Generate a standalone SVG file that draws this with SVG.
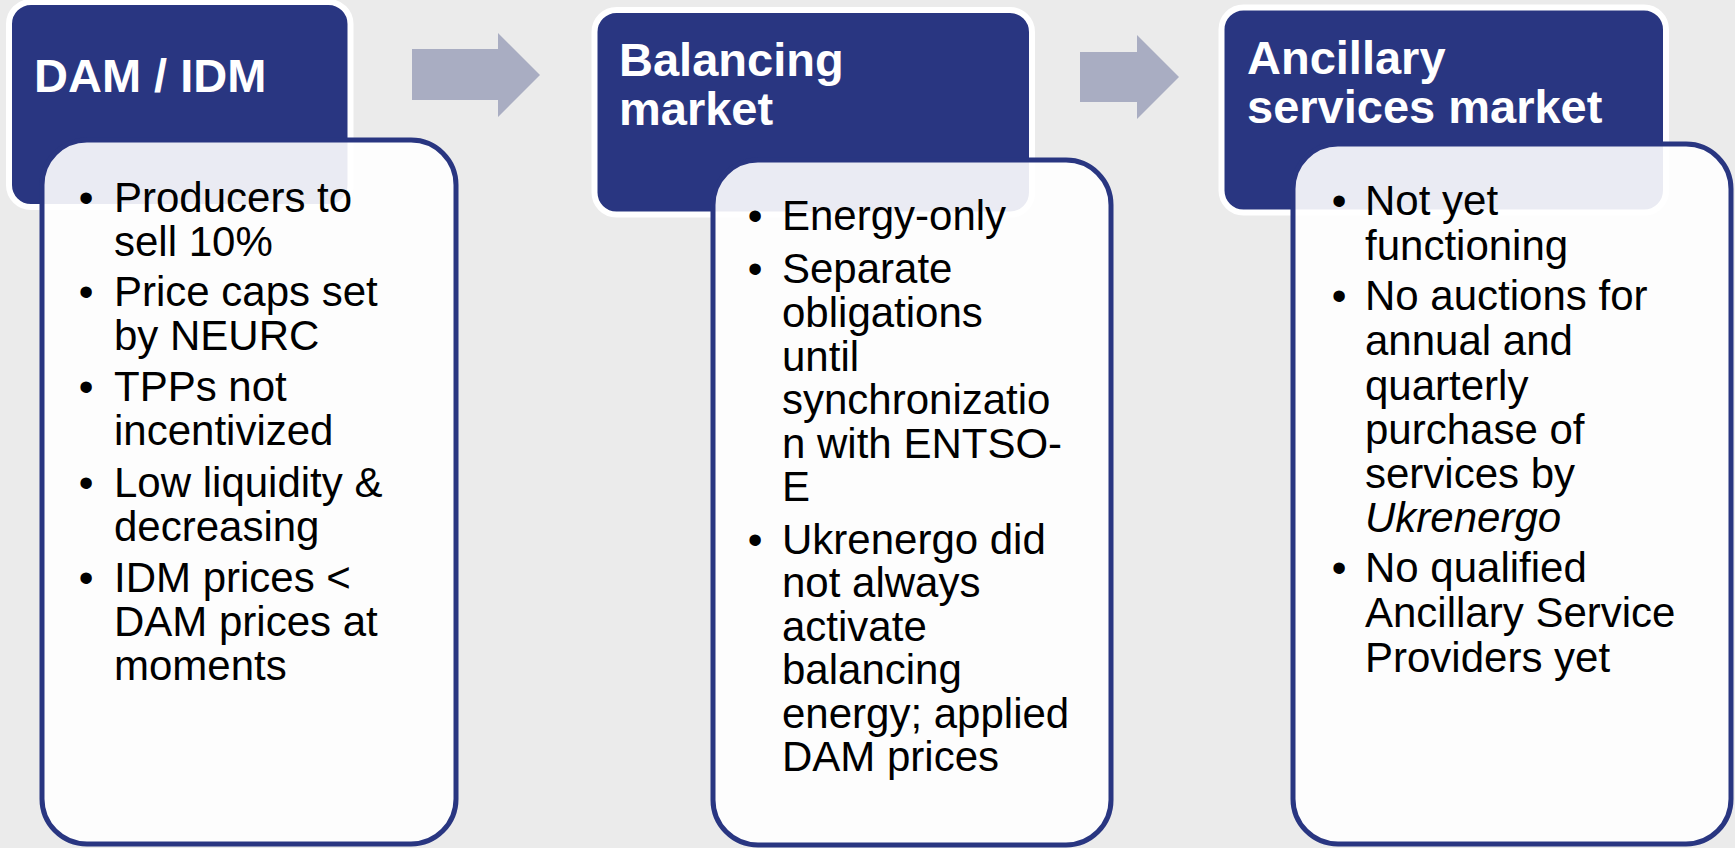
<svg xmlns="http://www.w3.org/2000/svg" width="1735" height="848" viewBox="0 0 1735 848">
<style>
.hdr{fill:#293681;stroke:#FFFFFF;stroke-width:6}
.body{fill:#FFFFFF;fill-opacity:0.9;stroke:#293681;stroke-width:5}
.ht{font-family:"Liberation Sans",Arial,sans-serif;font-weight:bold;font-size:47px;fill:#FFFFFF}
.bt{font-family:"Liberation Sans",Arial,sans-serif;font-size:42px;fill:#000000}
.bu{font-family:"Liberation Sans",Arial,sans-serif;font-size:42px;fill:#000000;text-anchor:middle}
.arr{fill:#A9ADC2}
</style>
<rect x="0" y="0" width="1735" height="848" fill="#EBEBEB"/>
<g id="connectors">
<polygon class="arr" points="412,49 498,49 498,33 540,75 498,117 498,100 412,100"/>
<polygon class="arr" points="1080,52 1137,52 1137,35 1179,77 1137,119 1137,102 1080,102"/>
</g>
<g id="dam-idm">
<rect class="hdr" x="9" y="2" width="341.5" height="205" rx="22"/>
<text class="ht" x="34" y="92">DAM / IDM</text>
<rect class="body" x="42" y="140" width="414" height="704" rx="45"/>
<text class="bu" x="86" y="212">•</text>
<text class="bt" x="114" y="212">Producers to</text>
<text class="bt" x="114" y="256">sell 10%</text>
<text class="bu" x="86" y="306">•</text>
<text class="bt" x="114" y="306">Price caps set</text>
<text class="bt" x="114" y="350">by NEURC</text>
<text class="bu" x="86" y="401">•</text>
<text class="bt" x="114" y="401">TPPs not</text>
<text class="bt" x="114" y="445">incentivized</text>
<text class="bu" x="86" y="497">•</text>
<text class="bt" x="114" y="497">Low liquidity &amp;</text>
<text class="bt" x="114" y="541">decreasing</text>
<text class="bu" x="86" y="592">•</text>
<text class="bt" x="114" y="592">IDM prices &lt;</text>
<text class="bt" x="114" y="636">DAM prices at</text>
<text class="bt" x="114" y="680">moments</text>
</g>
<g id="balancing">
<rect class="hdr" x="594.5" y="10" width="437.5" height="204.5" rx="22"/>
<text class="ht" x="619" y="76">Balancing</text>
<text class="ht" x="619" y="125">market</text>
<rect class="body" x="713" y="160" width="398" height="685" rx="45"/>
<text class="bu" x="755" y="230">•</text>
<text class="bt" x="782" y="230">Energy-only</text>
<text class="bu" x="755" y="282.5">•</text>
<text class="bt" x="782" y="282.5">Separate</text>
<text class="bt" x="782" y="326.5">obligations</text>
<text class="bt" x="782" y="370.5">until</text>
<text class="bt" x="782" y="414">synchronizatio</text>
<text class="bt" x="782" y="457.5">n with ENTSO-</text>
<text class="bt" x="782" y="501">E</text>
<text class="bu" x="755" y="553.5">•</text>
<text class="bt" x="782" y="553.5">Ukrenergo did</text>
<text class="bt" x="782" y="597">not always</text>
<text class="bt" x="782" y="640.5">activate</text>
<text class="bt" x="782" y="684">balancing</text>
<text class="bt" x="782" y="727.5">energy; applied</text>
<text class="bt" x="782" y="771">DAM prices</text>
</g>
<g id="ancillary">
<rect class="hdr" x="1221.5" y="7.5" width="444.5" height="205" rx="22"/>
<text class="ht" x="1247" y="74">Ancillary</text>
<text class="ht" x="1247" y="123">services market</text>
<rect class="body" x="1293" y="144" width="438" height="700" rx="45"/>
<text class="bu" x="1339" y="215">•</text>
<text class="bt" x="1365" y="215">Not yet</text>
<text class="bt" x="1365" y="260">functioning</text>
<text class="bu" x="1339" y="310">•</text>
<text class="bt" x="1365" y="310">No auctions for</text>
<text class="bt" x="1365" y="355">annual and</text>
<text class="bt" x="1365" y="400">quarterly</text>
<text class="bt" x="1365" y="444">purchase of</text>
<text class="bt" x="1365" y="488">services by</text>
<text class="bt" x="1365" y="532" font-style="italic">Ukrenergo</text>
<text class="bu" x="1339" y="582">•</text>
<text class="bt" x="1365" y="582">No qualified</text>
<text class="bt" x="1365" y="627">Ancillary Service</text>
<text class="bt" x="1365" y="672">Providers yet</text>
</g>
</svg>
